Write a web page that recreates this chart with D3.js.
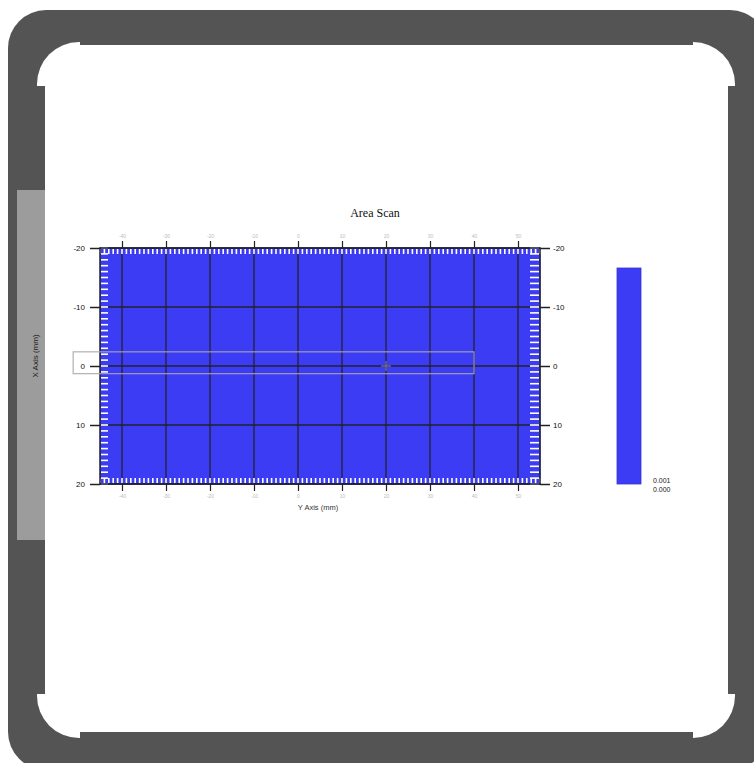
<!DOCTYPE html>
<html>
<head>
<meta charset="utf-8">
<script src="https://cdn.jsdelivr.net/npm/d3@7"></script>
<style>
  html, body { margin: 0; padding: 0; background: #ffffff; }
  svg { display: block; }
</style>
</head>
<body>
<svg id="chart" width="754" height="763"></svg>
<script>
// ---- data ----
const chartTitle = "Area Scan";
const xAxisTitle = "X Axis (mm)";
const yAxisTitle = "Y Axis (mm)";
const xDomain = [-20, 20];          // vertical axis (X Axis, mm)
const yDomain = [-45, 55];          // horizontal axis (Y Axis, mm)
const xTicks = [-20, -10, 0, 10, 20];
const yTicks = [-40, -30, -20, -10, 0, 10, 20, 30, 40, 50];
const scanRows = [-20, -10, 0, 10];               // row start (mm)
const scanCols = [-45, -35, -25, -15, -5, 5, 15, 25, 35, 45]; // col start (mm)
const scanValues = [
  [0,0,0,0,0,0,0,0,0,0],
  [0,0,0,0,0,0,0,0,0,0],
  [0,0,0,0,0,0,0,0,0,0],
  [0,0,0,0,0,0,0,0,0,0]
];
const colorbarLabels = ["0.001", "0.000"];
const colorDomain = [0, 0.001];
const selectionBox = { y0: -51.1, y1: 40, x0: -2.4, x1: 1.3 };
const cursor = { y: 20, x: 0 };

// ---- drawing ----
const svg = d3.select("#chart");

// frame
const frame = svg.append("g");
frame.append("rect").attr("x", 8).attr("y", 10).attr("width", 760).attr("height", 760)
  .attr("rx", 38).attr("fill", "#545454");
frame.append("rect").attr("x", 37).attr("y", 42).attr("width", 698).attr("height", 696)
  .attr("rx", 42).attr("fill", "#ffffff");
frame.append("rect").attr("x", 8).attr("y", 86).attr("width", 37).attr("height", 608).attr("fill", "#545454");
frame.append("rect").attr("x", 728).attr("y", 86).attr("width", 30).attr("height", 608).attr("fill", "#545454");
frame.append("rect").attr("x", 80).attr("y", 10).attr("width", 613).attr("height", 35).attr("fill", "#545454");
frame.append("rect").attr("x", 80).attr("y", 732).attr("width", 613).attr("height", 35).attr("fill", "#545454");

// left gray bar with axis title
frame.append("rect").attr("x", 17).attr("y", 190).attr("width", 28).attr("height", 350).attr("fill", "#9c9c9c");
svg.append("text")
  .attr("transform", "translate(38,356) rotate(-90)")
  .attr("text-anchor", "middle")
  .attr("font-family", "Liberation Sans, Arial, sans-serif")
  .attr("font-size", 8)
  .attr("fill", "#222")
  .text(xAxisTitle);

const L = 100, R = 540, T = 248, B = 484;
const xPos = d3.scaleLinear().domain(yDomain).range([L, R]);
const yPos = d3.scaleLinear().domain(xDomain).range([T, B]);
const color = d3.scaleLinear().domain(colorDomain).range(["#3c3cf4", "#ff2020"]);

// cells
const plot = svg.append("g");
scanRows.forEach((r, i) => {
  scanCols.forEach((c, j) => {
    plot.append("rect")
      .attr("x", xPos(c)).attr("y", yPos(r))
      .attr("width", xPos(c + 10) - xPos(c) + 0.5)
      .attr("height", yPos(r + 10) - yPos(r) + 0.5)
      .attr("fill", color(scanValues[i][j]));
  });
});

// grid lines
plot.selectAll("line.vg").data(yTicks).join("line")
  .attr("x1", d => xPos(d)).attr("x2", d => xPos(d))
  .attr("y1", T).attr("y2", B).attr("stroke", "#22222e").attr("stroke-width", 1.3);
plot.selectAll("line.hg").data(xTicks).join("line")
  .attr("y1", d => yPos(d)).attr("y2", d => yPos(d))
  .attr("x1", L).attr("x2", R).attr("stroke", "#22222e").attr("stroke-width", 1.3);

// minor white ticks (inside)
const minorX = d3.range(xDomain[0], xDomain[1] + 1, 1);
const minorY = d3.range(yDomain[0], yDomain[1] + 1, 1);
const minor = svg.append("g").attr("stroke", "#ffffff").attr("stroke-width", 1.6);
minor.selectAll("line.ml").data(minorX).join("line")
  .attr("x1", L + 1).attr("x2", L + 8).attr("y1", d => yPos(d)).attr("y2", d => yPos(d));
minor.selectAll("line.mr").data(minorX).join("line")
  .attr("x1", R - 10).attr("x2", R - 1).attr("y1", d => yPos(d)).attr("y2", d => yPos(d));
minor.selectAll("line.mt").data(minorY).join("line")
  .attr("y1", T + 1).attr("y2", T + 6).attr("x1", d => xPos(d)).attr("x2", d => xPos(d));
minor.selectAll("line.mb").data(minorY).join("line")
  .attr("y1", B - 6).attr("y2", B - 1).attr("x1", d => xPos(d)).attr("x2", d => xPos(d));

// border
svg.append("rect").attr("x", L).attr("y", T).attr("width", R - L).attr("height", B - T)
  .attr("fill", "none").attr("stroke", "#22222e").attr("stroke-width", 1.5);

// selection box and cursor
svg.append("rect")
  .attr("x", xPos(selectionBox.y0)).attr("y", yPos(selectionBox.x0))
  .attr("width", xPos(selectionBox.y1) - xPos(selectionBox.y0))
  .attr("height", yPos(selectionBox.x1) - yPos(selectionBox.x0))
  .attr("fill", "none").attr("stroke", "#a8a8a8").attr("stroke-width", 1.2).attr("opacity", 0.9);
svg.append("path")
  .attr("d", `M${xPos(cursor.y) - 5},${yPos(cursor.x)}h10M${xPos(cursor.y)},${yPos(cursor.x) - 5}v10`)
  .attr("stroke", "#888").attr("stroke-width", 1);

// axes
const fontSans = "Liberation Sans, Arial, sans-serif";
const fmt = d => String(d);
const axL = svg.append("g").attr("transform", `translate(${L},0)`)
  .call(d3.axisLeft(yPos).tickValues(xTicks).tickFormat(fmt).tickSize(10).tickSizeOuter(0).tickPadding(5));
const axR = svg.append("g").attr("transform", `translate(${R},0)`)
  .call(d3.axisRight(yPos).tickValues(xTicks).tickFormat(fmt).tickSize(10).tickSizeOuter(0).tickPadding(3));
const axT = svg.append("g").attr("transform", `translate(0,${T})`)
  .call(d3.axisTop(xPos).tickValues(yTicks).tickFormat(fmt).tickSize(7).tickSizeOuter(0).tickPadding(3));
const axB = svg.append("g").attr("transform", `translate(0,${B})`)
  .call(d3.axisBottom(xPos).tickValues(yTicks).tickFormat(fmt).tickSize(7).tickSizeOuter(0).tickPadding(3));
[axL, axR].forEach(a => {
  a.select(".domain").remove();
  a.selectAll("line").attr("stroke", "#222").attr("stroke-width", 1.5);
  a.selectAll("text").attr("font-family", fontSans).attr("font-size", 8).attr("fill", "#111");
});
[axT, axB].forEach(a => {
  a.select(".domain").remove();
  a.selectAll("line").attr("stroke", "#222").attr("stroke-width", 1.2);
  a.selectAll("text").attr("font-family", fontSans).attr("font-size", 5).attr("fill", "#bbb");
});

// titles
svg.append("text").attr("x", 375).attr("y", 217).attr("text-anchor", "middle")
  .attr("font-family", "Liberation Serif, Times New Roman, serif").attr("font-size", 12)
  .attr("fill", "#111").text(chartTitle);
svg.append("text").attr("x", 318).attr("y", 510).attr("text-anchor", "middle")
  .attr("font-family", fontSans).attr("font-size", 7.5).attr("fill", "#333").text(yAxisTitle);

// colorbar
const cbY = d3.scaleLinear().domain(colorDomain).range([484, 268]);
svg.append("rect").attr("x", 617).attr("y", cbY(colorDomain[1]))
  .attr("width", 24).attr("height", cbY(colorDomain[0]) - cbY(colorDomain[1]))
  .attr("fill", color(colorDomain[0])).attr("stroke", "#3434d8").attr("stroke-width", 0.8);
svg.selectAll("text.cb").data(colorbarLabels).join("text")
  .attr("x", 653).attr("y", (d, i) => 483 + i * 9)
  .attr("font-family", fontSans).attr("font-size", 7).attr("fill", "#222").text(d => d);
</script>
</body>
</html>
